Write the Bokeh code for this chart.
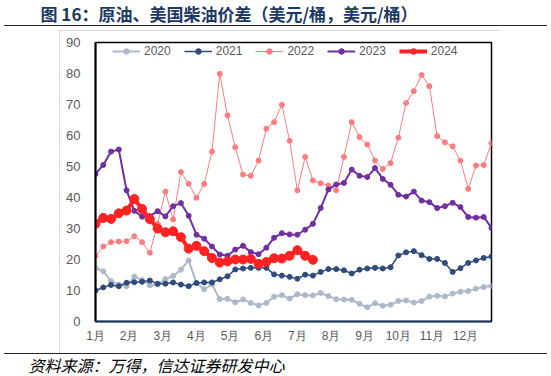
from bokeh.plotting import figure
from bokeh.models import (Range1d, FixedTicker, Legend, LegendItem, Title,
                          CustomJSTickFormatter)
from bokeh.embed import file_html
from bokeh.resources import INLINE

# ---------------- data ----------------
months = ["1月", "2月", "3月", "4月", "5月", "6月", "7月", "8月", "9月", "10月", "11月", "12月"]
y_ticks = [0, 10, 20, 30, 40, 50, 60, 70, 80, 90]

s2020 = [17.3, 16.2, 13.0, 11.9, 11.4, 14.5, 13.4, 11.7, 11.9, 13.7, 14.7, 16.7, 19.7, 12.4, 10.4, 12.0,
         7.2, 7.3, 6.2, 7.1, 6.0, 5.2, 6.0, 8.0, 8.5, 7.4, 8.8, 8.5, 8.4, 9.2, 8.2, 7.2,
         7.1, 7.0, 5.7, 4.6, 5.9, 5.1, 5.4, 6.6, 6.8, 6.1, 6.6, 8.0, 8.3, 8.1, 9.0, 9.6,
         9.8, 10.6, 11.1, 11.5]
s2021 = [10.0, 11.0, 11.8, 11.4, 12.5, 12.7, 12.8, 13.2, 12.2, 12.2, 12.6, 11.9, 11.4, 12.4, 12.6, 12.6,
         13.6, 14.6, 16.8, 17.1, 17.3, 17.3, 17.3, 15.2, 14.8, 14.4, 13.8, 15.1, 14.8, 16.0, 16.9, 16.9,
         16.5, 15.5, 16.7, 17.1, 17.3, 17.1, 17.5, 21.3, 22.3, 22.7, 21.4, 20.2, 20.2, 18.9, 16.0, 17.2,
         18.9, 19.7, 20.5, 21.0]
s2022 = [21.1, 24.2, 25.6, 25.8, 25.9, 27.5, 25.6, 22.2, 31.5, 41.9, 32.9, 48.2, 44.4, 39.9, 44.4, 54.8,
         79.9, 66.5, 56.2, 47.4, 47.0, 51.9, 62.2, 64.3, 69.9, 58.3, 42.3, 53.1, 45.5, 44.6, 43.9, 42.3,
         53.1, 64.3, 59.5, 57.1, 51.9, 49.2, 51.1, 59.3, 70.5, 74.3, 79.5, 75.9, 59.8, 57.8, 56.5, 51.9,
         42.8, 50.3, 50.5, 57.5]
s2023 = [47.6, 50.5, 54.8, 55.5, 42.3, 35.7, 33.8, 34.0, 35.6, 33.9, 37.2, 38.2, 34.1, 28.0, 26.7, 24.2,
         21.6, 21.2, 23.2, 24.4, 22.4, 21.7, 23.8, 27.0, 28.5, 28.1, 28.0, 29.6, 31.5, 36.6, 42.6, 44.2,
         44.7, 49.0, 47.0, 46.6, 49.5, 46.0, 44.1, 40.9, 40.3, 41.9, 39.0, 38.5, 36.6, 37.2, 38.3, 36.9,
         33.7, 33.5, 33.7, 30.2]
s2024 = [31.5, 33.4, 33.1, 34.9, 35.8, 39.5, 36.3, 33.0, 30.0, 28.8, 29.1, 27.2, 23.5, 24.4, 22.7, 20.5,
         19.0, 19.4, 20.0, 20.0, 20.2, 18.6, 19.2, 20.4, 20.3, 21.2, 23.0, 21.2, 19.9]

series = [
    ("2020", s2020, "#ADB9CA", 2.0, 5),
    ("2021", s2021, "#2F4A7C", 1.5, 5),
    ("2022", s2022, "#FF7C80", 1.0, 5),
    ("2023", s2023, "#7030A0", 2.0, 5),
    ("2024", s2024, "#FF2222", 4.0, 9),
]

# decorative rules drawn as host-element backgrounds (outside the plot frame)
deco = {
    "background-image": ("linear-gradient(#262626,#262626), linear-gradient(#D9D9D9,#D9D9D9), "
                         "linear-gradient(#D9D9D9,#D9D9D9), linear-gradient(#262626,#262626)"),
    "background-position": "4px 25px, 58px 30px, 59px 30px, 4px 353px",
    "background-size": "543px 1px, 443px 1px, 1px 323px, 543px 1px",
    "background-repeat": "no-repeat",
    "background-color": "white",
}

# ---------------- figure ----------------
p = figure(width=551, height=376, output_backend="svg", toolbar_location=None,
           x_range=Range1d(0, 51), y_range=Range1d(0, 90),
           min_border_left=95, min_border_right=60, min_border_top=42, min_border_bottom=55,
           background_fill_color="white", border_fill_alpha=0, styles=deco)
p.grid.visible = False
p.outline_line_color = "black"
p.outline_line_width = 1.5

items = []
for name, vals, color, lw, ms in series:
    xs = list(range(len(vals)))
    lr = p.line(xs, vals, line_color=color, line_width=lw)
    sr = p.scatter(xs, vals, size=ms, fill_color=color, line_color=color, marker="circle")
    items.append(LegendItem(label=name, renderers=[lr, sr]))

legend = Legend(items=items, orientation="horizontal", location=(17, 263),
                padding=0, margin=0, spacing=13, glyph_width=28, glyph_height=14,
                label_height=14, label_standoff=4, label_text_font_size="12px",
                label_text_font="Liberation Sans", label_text_color="#595959",
                border_line_color=None, background_fill_alpha=0)
p.add_layout(legend)

# axes
p.xaxis.ticker = FixedTicker(ticks=[i * 52 / 12 for i in range(len(months))])
p.xaxis.formatter = CustomJSTickFormatter(args={"months": months}, code="return months[index];")
p.xaxis.axis_line_color = "#1F3864"
p.xaxis.axis_line_width = 2
p.xaxis.major_tick_line_color = None
p.xaxis.minor_tick_line_color = None
p.xaxis.major_tick_out = 0
p.xaxis.major_tick_in = 0
p.xaxis.minor_tick_out = 0
p.xaxis.major_label_text_font = "Liberation Sans"
p.xaxis.major_label_text_font_size = "12px"
p.xaxis.major_label_text_color = "#595959"
p.xaxis.major_label_standoff = 7

p.yaxis.ticker = FixedTicker(ticks=y_ticks)
p.yaxis.axis_line_color = "black"
p.yaxis.axis_line_width = 2
p.yaxis.major_tick_line_color = None
p.yaxis.minor_tick_line_color = None
p.yaxis.major_tick_out = 0
p.yaxis.major_tick_in = 0
p.yaxis.minor_tick_out = 0
p.yaxis.major_label_text_font = "Liberation Sans"
p.yaxis.major_label_text_font_size = "13px"
p.yaxis.major_label_text_color = "#595959"
p.yaxis.major_label_standoff = 15

# spacer between frame and title (keeps the title near the top edge)
p.add_layout(Title(text=" ", text_font_size="1px", standoff=14.5), "above")

# title (outermost "above" item)
p.title.text = "图 16：原油、美国柴油价差（美元/桶，美元/桶）"
p.title.align = "left"
p.title.offset = -55
p.title.standoff = -3
p.title.text_font = "Noto Sans CJK SC"
p.title.text_font_size = "17px"
p.title.text_font_style = "bold"
p.title.text_color = "#203864"

# spacer below the x axis, then the source note
p.add_layout(Title(text=" ", text_font_size="1px", standoff=2), "below")
p.add_layout(Title(text="资料来源：万得，信达证券研发中心", align="left", offset=-67,
                   standoff=0, text_font="Noto Sans CJK SC", text_font_size="16px",
                   text_font_style="italic", text_color="black"), "below")

open("out.html", "w").write(file_html(p, INLINE))
